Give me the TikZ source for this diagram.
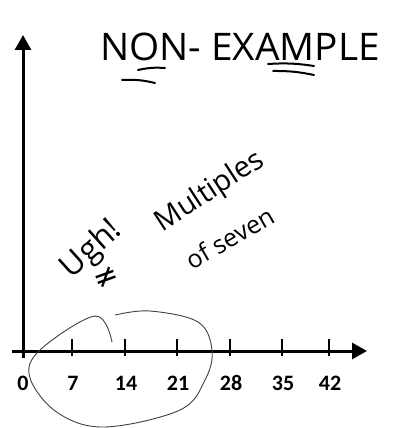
\documentclass[tikz,border=0pt]{standalone}
\usepackage{fontspec}
\setmainfont{Carlito}
\newfontfamily\hand{Open Sans}
\newfontfamily\sym{DejaVu Sans}
\usetikzlibrary{arrows.meta}
\begin{document}
\begin{tikzpicture}[x=1pt,y=-1pt,
  axis/.style={line width=3pt,-{Triangle[length=15pt,width=16pt]}},
  tickmark/.style={line width=2pt},
  numlab/.style={font=\fontsize{22}{22}\selectfont\bfseries,inner sep=0pt},
  handtxt/.style={font=\hand\fontsize{#1}{#1}\selectfont,inner sep=0pt},
  handtxt/.default=24,
  loop/.style={line width=0.9pt,black!75},
  uline/.style={line width=2pt,line cap=round}]
\useasboundingbox (0,0) rectangle (393,428);
% axes
\coordinate (O) at (23,351);
\coordinate (ytip) at (23,35);
\coordinate (xtip) at (367,351);
\coordinate (ybot) at (23,358);
\coordinate (xleft) at (12,351);
\draw[axis] (ybot) -- (ytip);
\draw[axis] (xleft) -- (xtip);
% ticks and labels
\foreach \x/\n in {72/7,125/14,177/21,230/28,282/35,329/42}{
  \coordinate (t\n a) at (\x,339);
  \coordinate (t\n b) at (\x,356);
  \draw[tickmark] (t\n a) -- (t\n b);
  \node[numlab] (l\n) at (\x+1,383) {\n};
}
\node[numlab] (l0) at (23,383) {0};
% title
\node[handtxt=38,anchor=base west,xscale=1.02] (title) at (100,60) {NON- EXAMPLE};
\coordinate (u1a) at (138,70); \coordinate (u1b) at (165,68);
\coordinate (u2a) at (122,80); \coordinate (u2b) at (155,83);
\coordinate (u3a) at (268,64); \coordinate (u3b) at (314,66);
\coordinate (u4a) at (273,71); \coordinate (u4b) at (314,75);
\draw[uline] (u1a) to[bend left=8] (u1b);
\draw[uline] (u2a) to[bend left=8] (u2b);
\draw[uline] (u3a) to[bend left=6] (u3b);
\draw[uline] (u4a) to[bend left=6] (u4b);
% handwritten note
\node[handtxt=32,rotate=42] (ugh) at (92,250) {Ugh!};
\node[font=\sym\fontsize{30}{30}\selectfont,inner sep=0pt,rotate=20] (neq) at (106,278) {≠};
\node[handtxt=29,rotate=33] (mult) at (210,192) {Multiples};
\node[handtxt=25,rotate=30] (seven) at (230,238) {of seven};
% loop around 0..21
\coordinate (c0) at (112,342);
\coordinate (c1) at (95,316);
\coordinate (c2) at (40,350);
\coordinate (c3) at (30,378);
\coordinate (c4) at (58,413);
\coordinate (c5) at (105,427);
\coordinate (c6) at (180,410);
\coordinate (c7) at (205,380);
\coordinate (c8) at (212,350);
\coordinate (c9) at (198,322);
\coordinate (c10) at (150,311);
\coordinate (c11) at (115,315);
\draw[loop] plot[smooth,tension=0.6] coordinates {(c0) (c1) (c2) (c3) (c4) (c5) (c6) (c7) (c8) (c9) (c10) (c11)};
\end{tikzpicture}
\end{document}
